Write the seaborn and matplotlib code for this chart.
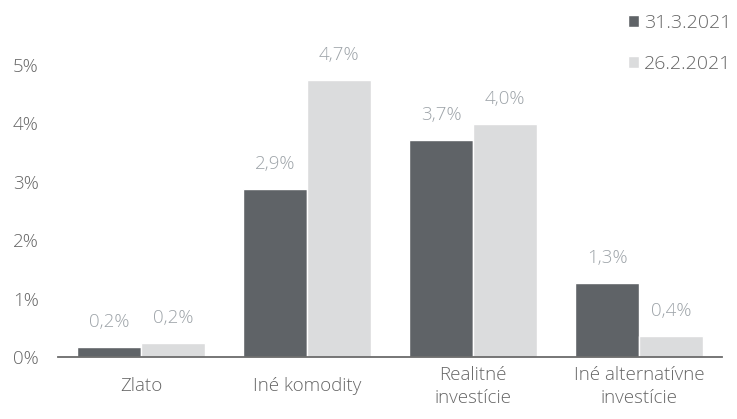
import matplotlib
matplotlib.use("Agg")
import matplotlib.pyplot as plt
import seaborn as sns
import pandas as pd

categories = ["Zlato", "Iné komodity", "Realitné\ninvestície", "Iné alternatívne\ninvestície"]
series_names = ["31.3.2021", "26.2.2021"]
values_mar = [0.17, 2.88, 3.72, 1.26]
values_feb = [0.24, 4.74, 3.99, 0.37]
y_ticks = [0, 1, 2, 3, 4, 5]
y_tick_labels = ["0%", "1%", "2%", "3%", "4%", "5%"]

df = pd.DataFrame({
    "cat": categories * 2,
    "series": [series_names[0]] * 4 + [series_names[1]] * 4,
    "val": values_mar + values_feb,
})

sns.set_theme(style="white")
plt.rcParams["font.family"] = ["Open Sans", "DejaVu Sans"]
plt.rcParams["font.weight"] = "light"

fig = plt.figure(figsize=(7.37, 4.19), dpi=100)
ax = fig.add_axes([0.0787, 0.1475, 0.9013, 0.768])

palette = {series_names[0]: "#5f6367", series_names[1]: "#dbdcdd"}
sns.barplot(data=df, x="cat", y="val", hue="series", palette=palette,
            width=0.77, saturation=1, ax=ax, legend=True)

for cont in ax.containers:
    for bar in cont:
        h = bar.get_height()
        ax.annotate(f"{h:.1f}%".replace(".", ","),
                    (bar.get_x() + bar.get_width() / 2, h),
                    xytext=(0, 18), textcoords="offset points",
                    ha="center", va="center", fontsize=13.5,
                    color="#9ea4a9", fontweight="light")

ax.set_xlim(-0.5, 3.5)
ax.set_ylim(0, 5.5)
ax.set_yticks(y_ticks)
ax.set_yticklabels(y_tick_labels)
ax.set_xlabel("")
ax.set_ylabel("")
ax.tick_params(axis="both", length=0, colors="#666666", labelsize=13.5)
ax.tick_params(axis="y", pad=14)
ax.tick_params(axis="x", pad=21)
for t in ax.get_xticklabels():
    t.set_linespacing(1.38)
    t.set_va("center")
for s in ["top", "right", "left"]:
    ax.spines[s].set_visible(False)
ax.spines["bottom"].set_color("#6b6b6b")
ax.spines["bottom"].set_linewidth(1.3)

handles, labels = ax.get_legend_handles_labels()
leg = ax.legend(handles, labels, loc="upper left", bbox_to_anchor=(0.833, 1.0),
                bbox_transform=fig.transFigure, frameon=False,
                handlelength=0.6, handleheight=0.6, handletextpad=0.25,
                labelspacing=1.2, fontsize=14, labelcolor="#666666",
                borderaxespad=0.3)

fig.savefig("out.png", dpi=100)
